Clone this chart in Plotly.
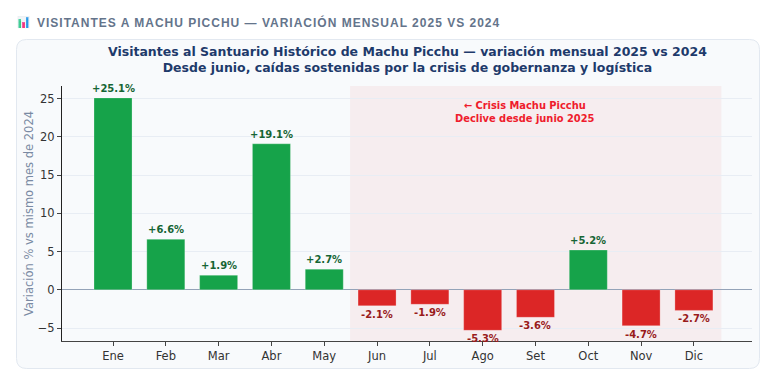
import plotly.graph_objects as go

W, H = 770, 376
meses = ["Ene","Feb","Mar","Abr","May","Jun","Jul","Ago","Set","Oct","Nov","Dic"]
variacion = [25.1,6.6,1.9,19.1,2.7,-2.1,-1.9,-5.3,-3.6,5.2,-4.7,-2.7]
yticks = [-5,0,5,10,15,20,25]
icono = "📊"
header = "VISITANTES A MACHU PICCHU — VARIACIÓN MENSUAL 2025 VS 2024"
titulo = "Visitantes al Santuario Histórico de Machu Picchu — variación mensual 2025 vs 2024<br>Desde junio, caídas sostenidas por la crisis de gobernanza y logística"
nota = "← Crisis Machu Picchu<br>Declive desde junio 2025"

FONT = "DejaVu Sans"
L, R, T, B = 62, 752, 86, 341
px = lambda v: v / W
py = lambda v: 1 - v / H

def rounded(x0, y0, x1, y1, r):
    X = lambda v: round(px(v), 5)
    Y = lambda v: round(py(v), 5)
    return (f"M{X(x0+r)},{Y(y0)} L{X(x1-r)},{Y(y0)} Q{X(x1)},{Y(y0)} {X(x1)},{Y(y0+r)} "
            f"L{X(x1)},{Y(y1-r)} Q{X(x1)},{Y(y1)} {X(x1-r)},{Y(y1)} "
            f"L{X(x0+r)},{Y(y1)} Q{X(x0)},{Y(y1)} {X(x0)},{Y(y1-r)} "
            f"L{X(x0)},{Y(y0+r)} Q{X(x0)},{Y(y0)} {X(x0+r)},{Y(y0)} Z")

colors = ["#16a34a" if v >= 0 else "#dc2626" for v in variacion]
fig = go.Figure(go.Bar(
    x=list(range(12)), y=variacion, width=0.72,
    marker=dict(color=colors, line=dict(color="rgba(255,255,255,0.5)", width=0.5)),
    hoverinfo="skip", showlegend=False,
))

ann = []
for i, v in enumerate(variacion):
    ann.append(dict(x=i, y=v, xref="x", yref="y", text=f"{v:+.1f}%", showarrow=False,
                    yanchor="bottom" if v >= 0 else "top", yshift=2 if v >= 0 else -1,
                    font=dict(family=FONT, size=10, weight="bold",
                              color="#166534" if v >= 0 else "#991b1b")))
ann.append(dict(x=7.81, y=23.2, xref="x", yref="y", text=nota, showarrow=False, yanchor="middle",
                align="center", font=dict(family=FONT, size=9.9, weight="bold", color="#ef1c2c")))
ann.append(dict(x=px(407), y=py(60), xref="paper", yref="paper", text=titulo, showarrow=False,
                xanchor="center", yanchor="middle", align="center",
                font=dict(family=FONT, size=12.5, weight="bold", color="#1e3a6b")))
ann.append(dict(x=px(268.5), y=py(22), xref="paper", yref="paper", text=header, showarrow=False,
                xanchor="center", yanchor="middle",
                font=dict(family="Liberation Sans", size=12, weight="bold", color="#64748b")))
ann.append(dict(x=px(23.5), y=py(22), xref="paper", yref="paper", text=icono, showarrow=False,
                xanchor="center", yanchor="middle",
                font=dict(family="DejaVu Sans", size=11, color="rgba(148,163,184,0.2)")))

def icon_bar(x0, x1, y0, color):
    return dict(type="rect", xref="paper", yref="paper", layer="above",
                x0=px(x0), x1=px(x1), y0=py(28), y1=py(y0), fillcolor=color, line=dict(width=0))

shapes = [
    dict(type="path", xref="paper", yref="paper", layer="below",
         path=rounded(16.5, 39.5, 759.5, 368.5, 10),
         fillcolor="#f8fafc", line=dict(color="#e2e8f0", width=1)),
    dict(type="rect", xref="x", yref="paper", layer="below", x0=4.49, x1=11.52,
         y0=py(B), y1=py(T), fillcolor="rgba(220,38,38,0.06)", line=dict(width=0)),
    dict(type="rect", xref="paper", yref="paper", layer="below",
         x0=px(17.5), x1=px(29.5), y0=py(28), y1=py(16), fillcolor="#eef2f6", line=dict(width=0)),
    icon_bar(18.5, 21, 19, "#1fc98a"),
    icon_bar(22, 25, 22, "#f0348f"),
    icon_bar(26, 28.5, 17, "#2f9be8"),
]

fig.update_layout(
    width=W, height=H, margin=dict(l=0, r=0, t=0, b=0),
    paper_bgcolor="white", plot_bgcolor="rgba(0,0,0,0)",
    annotations=ann, shapes=shapes,
    font=dict(family=FONT, size=11.5, color="#333333"),
    xaxis=dict(domain=[px(L), px(R)], range=[-0.966, 12.1], tickvals=list(range(12)), ticktext=meses,
               showgrid=False, zeroline=False, showline=True, linecolor="#444444", linewidth=1,
               ticks="outside", ticklen=4, tickcolor="#444444", anchor="y",
               tickfont=dict(family=FONT, size=11.5, color="#333333")),
    yaxis=dict(domain=[py(B), py(T)], range=[-6.7, 26.66], tickvals=yticks,
               showgrid=True, gridcolor="#e8edf4", gridwidth=1,
               zeroline=True, zerolinecolor="#94a3b8", zerolinewidth=1.3,
               showline=True, linecolor="#222222", linewidth=1,
               ticks="outside", ticklen=4, tickcolor="#444444", anchor="x",
               title=dict(text="Variación % vs mismo mes de 2024", standoff=1,
                          font=dict(family=FONT, size=11.5, color="#7a8aa3")),
               tickfont=dict(family=FONT, size=11.5, color="#333333")),
)

post = """
document.body.style.margin='0';
var gd=document.querySelector('.plotly-graph-div');
function ls(){document.querySelectorAll('.annotation-text').forEach(function(t){
 if(t.textContent.indexOf('VISITANTES A MACHU')>=0){t.style.letterSpacing='1.0px';}
});}
ls(); gd.on('plotly_afterplot',ls);
"""
fig.write_html("out.html", post_script=post, config={"displayModeBar": False})
